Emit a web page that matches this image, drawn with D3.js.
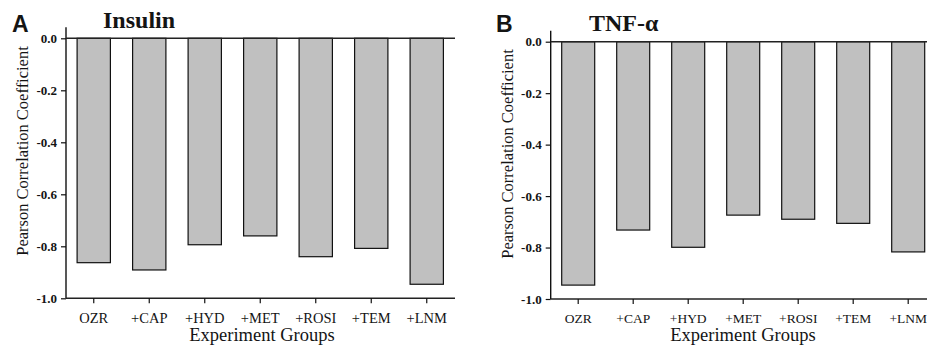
<!DOCTYPE html>
<html>
<head>
<meta charset="utf-8">
<script src="https://cdn.jsdelivr.net/npm/d3@7"></script>
<style>
  body { margin: 0; background: #fff; }
  svg { display: block; }
  text { font-family: "Liberation Serif", "Times New Roman", serif; fill: #141414; }
</style>
</head>
<body>
<svg id="chart" width="927" height="351"></svg>
<script>
// data
const groups = ["OZR", "+CAP", "+HYD", "+MET", "+ROSI", "+TEM", "+LNM"];
const insulinValues = [-0.863, -0.891, -0.794, -0.760, -0.840, -0.808, -0.946];
const tnfValues = [-0.946, -0.732, -0.799, -0.674, -0.690, -0.706, -0.817];
const yTicks = [0, -0.2, -0.4, -0.6, -0.8, -1.0];

const serif = "'Liberation Serif', 'Times New Roman', serif";
const svg = d3.select("#chart");

function drawPanel(cfg) {
  const g = svg.append("g");

  const x = d3.scaleBand()
    .domain(groups)
    .range([cfg.left, cfg.left + 7 * cfg.step])
    .paddingInner(0.4)
    .paddingOuter(0.2);

  const y = d3.scaleLinear()
    .domain([0, -1])
    .range([cfg.top, cfg.bottom]);

  // bars
  g.selectAll("rect")
    .data(cfg.values)
    .enter()
    .append("rect")
    .attr("x", (d, i) => x(groups[i]))
    .attr("y", y(0))
    .attr("width", x.bandwidth())
    .attr("height", d => y(d) - y(0))
    .attr("fill", "#c0c0c0")
    .attr("stroke", "#111")
    .attr("stroke-width", 1.2);

  // y axis
  const yAxis = g.append("g")
    .attr("transform", "translate(" + cfg.left + ",0)")
    .call(d3.axisLeft(y).tickValues(yTicks).tickSize(5).tickPadding(4));
  yAxis.select(".domain").remove();
  yAxis.selectAll("line").attr("stroke", "#111").attr("stroke-width", 1.2);
  yAxis.selectAll("text")
    .style("font-family", serif)
    .attr("font-size", 13)
    .attr("font-weight", "bold")
    .attr("fill", "#141414")
    .text(d => d3.format(".1f")(d).replace("−", "-").replace("-0.0", "0.0"));
  g.append("line")
    .attr("x1", cfg.left).attr("x2", cfg.left)
    .attr("y1", cfg.top - 11).attr("y2", cfg.bottom)
    .attr("stroke", "#111").attr("stroke-width", 1.4);

  // horizontal lines at 0 and at the bottom
  g.append("line")
    .attr("x1", cfg.left).attr("x2", cfg.xEnd)
    .attr("y1", y(0)).attr("y2", y(0))
    .attr("stroke", "#222").attr("stroke-width", 1.4);
  g.append("line")
    .attr("x1", cfg.left).attr("x2", cfg.xEnd)
    .attr("y1", y(-1)).attr("y2", y(-1))
    .attr("stroke", "#222").attr("stroke-width", 1.4);

  const xAxis = g.append("g")
    .attr("transform", "translate(0," + y(-1) + ")")
    .call(d3.axisBottom(x).tickSize(5).tickPadding(9));
  xAxis.select(".domain").remove();
  xAxis.selectAll("line").attr("stroke", "#111").attr("stroke-width", 1.2);
  xAxis.selectAll("text")
    .style("font-family", serif)
    .attr("font-size", cfg.xTickSize)
    .attr("fill", "#141414");

  // axis titles
  g.append("text")
    .attr("x", cfg.xTitleX)
    .attr("y", 341)
    .attr("text-anchor", "middle")
    .attr("font-size", 18.5)
    .style("font-family", serif)
    .text("Experiment Groups");

  g.append("text")
    .attr("transform", "translate(" + cfg.yTitleX + "," + cfg.yTitleY + ") rotate(-90)")
    .attr("text-anchor", "middle")
    .attr("font-size", 16.5)
    .style("font-family", serif)
    .text("Pearson Correlation Coefficient");

  // panel letter and title
  g.append("text")
    .attr("x", cfg.letterX)
    .attr("y", 32)
    .attr("font-weight", "bold")
    .attr("font-size", 23)
    .style("font-family", "'Liberation Sans', Arial, sans-serif")
    .text(cfg.letter);

  g.append("text")
    .attr("x", cfg.titleX)
    .attr("y", cfg.titleY)
    .attr("font-weight", "bold")
    .attr("font-size", 24)
    .style("font-family", serif)
    .text(cfg.title);
}

drawPanel({
  values: insulinValues, left: 66, step: 55.5, top: 38.3, bottom: 298.3, xEnd: 455,
  xTickSize: 14.5, xTitleX: 262, yTitleX: 28, yTitleY: 151,
  letter: "A", letterX: 12, title: "Insulin", titleX: 103, titleY: 28
});

drawPanel({
  values: tnfValues, left: 550.7, step: 55.0, top: 41.7, bottom: 299, xEnd: 927,
  xTickSize: 13.5, xTitleX: 743, yTitleX: 513, yTitleY: 154,
  letter: "B", letterX: 496, title: "TNF-α", titleX: 589, titleY: 31
});
</script>
</body>
</html>
